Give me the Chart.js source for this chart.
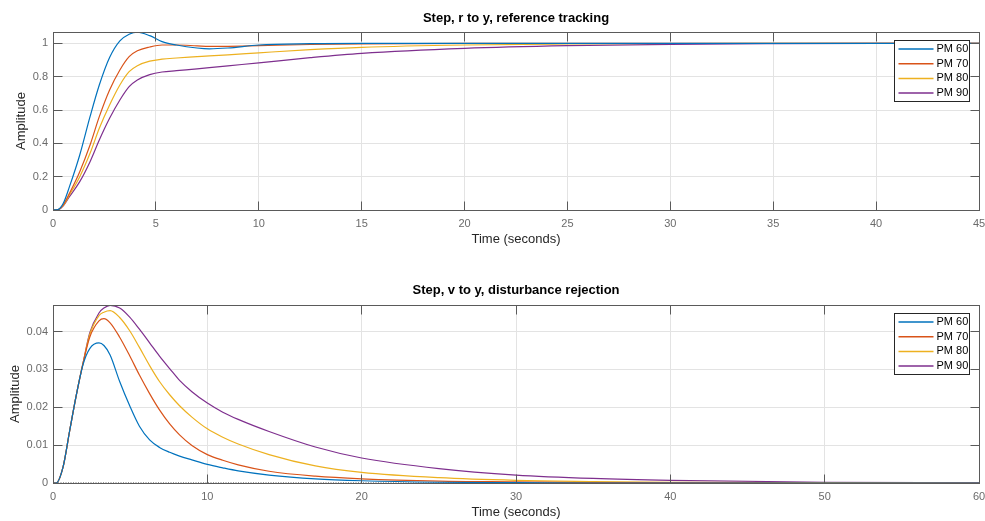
<!DOCTYPE html>
<html>
<head>
<meta charset="utf-8">
<script src="https://cdn.jsdelivr.net/npm/chart.js@4.4.1/dist/chart.umd.min.js"></script>
<style>
  body { margin: 0; background: #fff; }
  canvas { position: absolute; left: 0; }
</style>
</head>
<body>
<canvas id="trackChart" width="985" height="260" style="top:0"></canvas>
<canvas id="rejectChart" width="985" height="261" style="top:260px"></canvas>
<script>
const seriesLabels = ['PM 60', 'PM 70', 'PM 80', 'PM 90'];
const seriesColors = ['#0072BD', '#D95319', '#EDB120', '#7E2F8E'];

// Step, r to y (reference tracking)
const trackTime = [0, 0.25, 0.5, 0.8, 1.3, 1.8, 2.25, 2.75, 3.25, 3.7, 4.1, 4.7, 5.3, 6, 7, 7.6, 8.5, 10, 12.5, 15, 20, 25, 30, 35, 40, 45];
const trackPM60 = [0, 0.003, 0.04, 0.14, 0.33, 0.56, 0.75, 0.915, 1.015, 1.055, 1.067, 1.046, 1.01, 0.99, 0.972, 0.967, 0.972, 0.99, 0.998, 1.0, 1.0, 1.0, 1.0, 1.0, 1.0, 1.0];
const trackPM70 = [0, 0.002, 0.03, 0.10, 0.23, 0.39, 0.56, 0.72, 0.84, 0.92, 0.955, 0.978, 0.99, 0.99, 0.985, 0.982, 0.982, 0.986, 0.993, 0.997, 1.0, 1.0, 1.0, 1.0, 1.0, 1.0];
const trackPM80 = [0, 0.002, 0.027, 0.09, 0.20, 0.34, 0.49, 0.63, 0.75, 0.83, 0.866, 0.893, 0.905, 0.912, 0.92, 0.925, 0.931, 0.943, 0.962, 0.976, 0.99, 0.996, 0.999, 1.0, 1.0, 1.0];
const trackPM90 = [0, 0.002, 0.025, 0.08, 0.17, 0.29, 0.42, 0.55, 0.66, 0.74, 0.78, 0.812, 0.828, 0.836, 0.847, 0.854, 0.865, 0.883, 0.914, 0.94, 0.97, 0.986, 0.994, 0.998, 1.0, 1.0];
const trackXTicks = [0, 5, 10, 15, 20, 25, 30, 35, 40, 45];
const trackYTicks = [0, 0.2, 0.4, 0.6, 0.8, 1];

// Step, v to y (disturbance rejection)
const rejectTime = [0, 0.2, 0.65, 1.08, 1.51, 1.94, 2.38, 2.98, 3.3, 3.7, 4.32, 4.97, 5.6, 6.26, 6.9, 7.56, 8.2, 9, 10, 11, 12, 14, 17, 20, 25, 30, 35, 40, 50, 60];
const rejectPM60 = [0, 0, 0.0042, 0.0138, 0.0232, 0.0312, 0.0355, 0.037, 0.0363, 0.0338, 0.0268, 0.0204, 0.015, 0.0114, 0.0094, 0.0081, 0.0071, 0.0061, 0.0049, 0.004, 0.0032, 0.0021, 0.0011, 0.0006, 0.0002, 0.0001, 0, 0, 0, 0];
const rejectPM70 = [0, 0, 0.0042, 0.0138, 0.0232, 0.0315, 0.0385, 0.0428, 0.0434, 0.0423, 0.0385, 0.0336, 0.0285, 0.0236, 0.0193, 0.0156, 0.0127, 0.0099, 0.0075, 0.006, 0.0048, 0.0031, 0.0018, 0.0011, 0.0005, 0.0003, 0.0001, 0.0001, 0, 0];
const rejectPM80 = [0, 0, 0.0042, 0.0138, 0.0232, 0.0315, 0.0392, 0.0442, 0.0451, 0.0455, 0.0437, 0.0402, 0.0358, 0.031, 0.0268, 0.0233, 0.0204, 0.0174, 0.0143, 0.0121, 0.0103, 0.0075, 0.0045, 0.0028, 0.0014, 0.0007, 0.0004, 0.0002, 0.0001, 0];
const rejectPM90 = [0, 0, 0.0042, 0.0138, 0.0232, 0.0315, 0.0396, 0.0449, 0.0462, 0.0469, 0.0462, 0.0438, 0.0406, 0.037, 0.0335, 0.0302, 0.0271, 0.0241, 0.0211, 0.0187, 0.0168, 0.0136, 0.0095, 0.0066, 0.0038, 0.0021, 0.0012, 0.0007, 0.0002, 0.0001];
const rejectXTicks = [0, 10, 20, 30, 40, 50, 60];
const rejectYTicks = [0, 0.01, 0.02, 0.03, 0.04];
const rejectFinal = 0;

const FONT = '"Liberation Sans", Arial, sans-serif';
const GRID = '#e3e3e3';
const AXIS = '#5a5a5a';
const TICK = '#6b6b6b';

const al = p => Math.round(p - 0.5) + 0.5;

// box round the axes with the inward tick marks
const axesBox = {
    id: 'axesBox',
    afterDatasetsDraw(chart) {
        const { ctx, chartArea: a, scales } = chart;
        const L = al(a.left), R = al(a.right), T = al(a.top), B = al(a.bottom);
        ctx.save();
        ctx.strokeStyle = AXIS;
        ctx.lineWidth = 1;
        ctx.strokeRect(L, T, R - L, B - T);
        ctx.beginPath();
        scales.x.ticks.forEach(t => {
            const px = al(scales.x.getPixelForValue(t.value));
            ctx.moveTo(px, B); ctx.lineTo(px, B - 9);
            ctx.moveTo(px, T); ctx.lineTo(px, T + 9);
        });
        scales.y.ticks.forEach(t => {
            const py = al(scales.y.getPixelForValue(t.value));
            ctx.moveTo(L, py); ctx.lineTo(L + 9, py);
            ctx.moveTo(R, py); ctx.lineTo(R - 9, py);
        });
        ctx.stroke();
        ctx.restore();
    }
};

// MATLAB style legend in the upper right corner
const pmLegend = {
    id: 'pmLegend',
    afterDraw(chart) {
        const { ctx, chartArea: a } = chart;
        const entries = chart.data.datasets.filter(d => seriesLabels.includes(d.label));
        const w = 75, h = 61, rowH = 14.7;
        const bx = al(a.right - 85), by = al(a.top + 8.5);
        ctx.save();
        ctx.fillStyle = '#fff';
        ctx.fillRect(bx, by, w, h);
        ctx.strokeStyle = '#262626';
        ctx.lineWidth = 1;
        ctx.strokeRect(bx, by, w, h);
        ctx.font = '11px ' + FONT;
        ctx.textBaseline = 'middle';
        entries.forEach((d, i) => {
            const y = by + 8.5 + i * rowH;
            ctx.strokeStyle = d.borderColor;
            ctx.lineWidth = 1.5;
            ctx.beginPath();
            ctx.moveTo(bx + 4, y);
            ctx.lineTo(bx + 39, y);
            ctx.stroke();
            ctx.fillStyle = '#000';
            ctx.fillText(d.label, bx + 42, y);
        });
        ctx.restore();
    }
};

function buildDatasets(time, series) {
    return series.map((values, i) => ({
        label: seriesLabels[i],
        data: values.map((v, k) => ({ x: time[k], y: v })),
        borderColor: seriesColors[i],
        borderWidth: 1.2,
        pointRadius: 0,
        cubicInterpolationMode: 'monotone',
        fill: false
    }));
}

function stepChart(canvasId, cfg) {
    const ctx = document.getElementById(canvasId).getContext('2d');
    return new Chart(ctx, {
        type: 'line',
        data: { datasets: cfg.datasets },
        options: {
            responsive: false,
            animation: false,
            events: [],
            layout: { padding: { top: 0, right: 6, bottom: 0, left: 0 } },
            plugins: {
                legend: { display: false },
                tooltip: { enabled: false },
                title: {
                    display: true,
                    text: cfg.title,
                    fullSize: false,
                    color: '#000',
                    font: { family: FONT, size: 13, weight: 'bold' },
                    padding: cfg.titlePadding
                }
            },
            scales: {
                x: {
                    type: 'linear',
                    min: cfg.xTicks[0],
                    max: cfg.xTicks[cfg.xTicks.length - 1],
                    afterBuildTicks: s => { s.ticks = cfg.xTicks.map(v => ({ value: v })); },
                    afterFit: s => { s.height = cfg.xHeight; s.paddingLeft = 0; s.paddingRight = 0; },
                    grid: { color: GRID, drawTicks: false },
                    border: { display: false },
                    ticks: { color: TICK, font: { family: FONT, size: 11 }, padding: 7, maxRotation: 0, autoSkip: false },
                    title: {
                        display: true,
                        text: 'Time (seconds)',
                        color: '#262626',
                        font: { family: FONT, size: 13 },
                        padding: { top: 0, bottom: cfg.xTitlePad }
                    }
                },
                y: {
                    min: cfg.yTicks[0],
                    max: cfg.yMax,
                    afterBuildTicks: s => { s.ticks = cfg.yTicks.map(v => ({ value: v })); },
                    afterFit: s => { s.width = 53; s.paddingTop = 0; s.paddingBottom = 0; },
                    grid: { color: GRID, drawTicks: false },
                    border: { display: false },
                    ticks: {
                        color: TICK,
                        font: { family: FONT, size: 11 },
                        padding: 5,
                        callback: v => String(Math.round(v * 1000) / 1000)
                    },
                    title: {
                        display: true,
                        text: 'Amplitude',
                        color: '#262626',
                        font: { family: FONT, size: 13 },
                        padding: { top: cfg.yTitlePad, bottom: 0 }
                    }
                }
            }
        },
        plugins: [axesBox, pmLegend]
    });
}

stepChart('trackChart', {
    title: 'Step, r to y, reference tracking',
    datasets: buildDatasets(trackTime, [trackPM60, trackPM70, trackPM80, trackPM90]),
    xTicks: trackXTicks,
    yTicks: trackYTicks,
    yMax: 1.068,
    titlePadding: { top: 10.2, bottom: 6.2 },
    xHeight: 50,
    xTitlePad: 12.5,
    yTitlePad: 13.2
});

const rejectSets = buildDatasets(rejectTime, [rejectPM60, rejectPM70, rejectPM80, rejectPM90]);
rejectSets.push({
    label: 'final value',
    data: [rejectXTicks[0], rejectXTicks[rejectXTicks.length - 1]].map(t => ({ x: t, y: rejectFinal })),
    borderColor: '#333',
    borderWidth: 1,
    borderDash: [1, 1.5],
    pointRadius: 0,
    fill: false
});

stepChart('rejectChart', {
    title: 'Step, v to y, disturbance rejection',
    datasets: rejectSets,
    xTicks: rejectXTicks,
    yTicks: rejectYTicks,
    yMax: 0.047,
    titlePadding: { top: 22.7, bottom: 6.7 },
    xHeight: 38,
    xTitlePad: 1,
    yTitlePad: 7.2
});
</script>
</body>
</html>
